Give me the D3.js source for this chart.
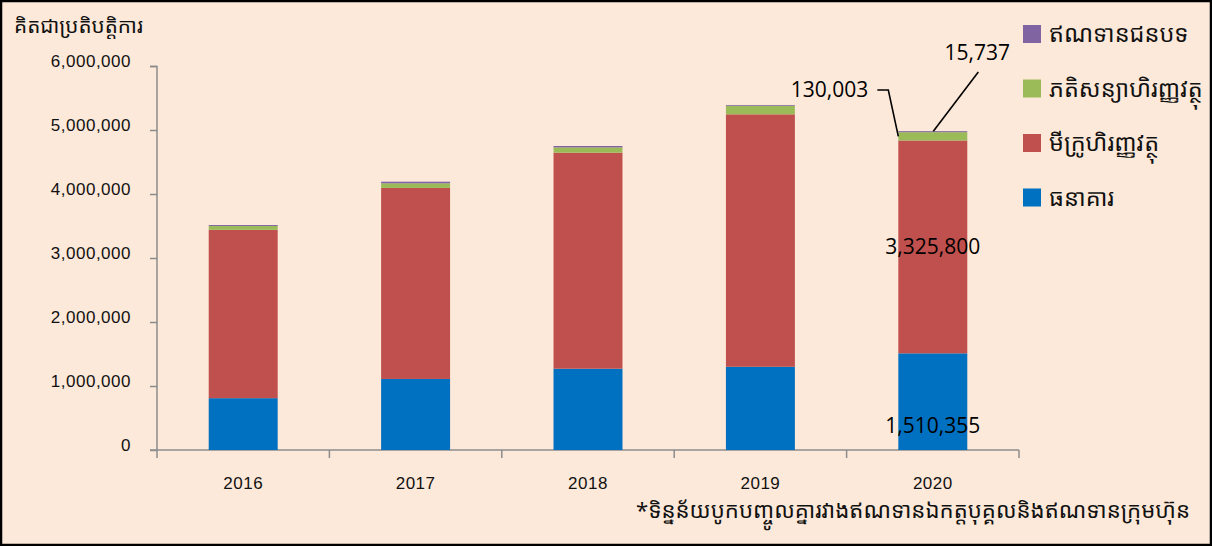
<!DOCTYPE html>
<html>
<head>
<meta charset="utf-8">
<script src="https://cdn.jsdelivr.net/npm/d3@7"></script>
<style>
  body { margin: 0; background: #fde9d9; }
  svg { display: block; }
</style>
</head>
<body>
<div id="chart-area"></div>
<script>
// data
const years = ["2016", "2017", "2018", "2019", "2020"]
const banks = [810000, 1110000, 1270000, 1300000, 1510355]
const microfinance = [2630000, 2985000, 3375000, 3945000, 3325800]
const leasing = [60000, 72000, 83000, 134000, 130003]
const rural = [15000, 25000, 22000, 12000, 15737]
const seriesNames = ["ធនាគារ", "មីក្រូហិរញ្ញវត្ថុ", "ភតិសន្យាហិរញ្ញវត្ថុ", "ឥណទានជនបទ"]
const seriesColors = ["#0070c0", "#c0504d", "#9bbb59", "#8064a2"]
const yTicks = [0, 1000000, 2000000, 3000000, 4000000, 5000000, 6000000]

const W = 1212, H = 546
const MARGIN = { LEFT: 157, RIGHT: 193, TOP: 66, BOTTOM: 96 }
const WIDTH = W - MARGIN.LEFT - MARGIN.RIGHT
const HEIGHT = H - MARGIN.TOP - MARGIN.BOTTOM

const svg = d3.select("#chart-area").append("svg")
  .attr("width", W)
  .attr("height", H)

svg.append("rect")
  .attr("x", 1).attr("y", 1)
  .attr("width", W - 2).attr("height", H - 2)
  .attr("fill", "#fde9d9")
  .attr("stroke", "#000")
  .attr("stroke-width", 2.5)

const g = svg.append("g")
  .attr("transform", `translate(${MARGIN.LEFT}, ${MARGIN.TOP})`)

const rows = years.map((yr, i) => ({
  year: yr, b: banks[i], m: microfinance[i], l: leasing[i], r: rural[i]
}))
const stack = d3.stack().keys(["b", "m", "l", "r"])(rows)

const x = d3.scaleBand()
  .domain(years)
  .range([0, WIDTH])
  .paddingInner(0.6)
  .paddingOuter(0.3)

const y = d3.scaleLinear()
  .domain([0, 6000000])
  .range([HEIGHT, 0])

const axisFont = "'Liberation Sans', Arial, sans-serif"

// Y axis
const yAxis = g.append("g")
  .call(d3.axisLeft(y).tickValues(yTicks).tickSize(7).tickPadding(19)
    .tickFormat(d3.format(",")))
yAxis.selectAll("path, line").attr("stroke", "#8c8c8c").attr("stroke-width", 1.5)
yAxis.select(".domain").attr("d", `M-7,0.5H0V${HEIGHT}`)
yAxis.selectAll("text")
  .attr("font-family", axisFont)
  .attr("font-size", "17px")
  .attr("letter-spacing", "0.5px")
  .attr("fill", "#111")
  .attr("dy", "0.02em")

// X axis
const xAxis = g.append("g")
  .attr("transform", `translate(0, ${HEIGHT})`)
  .call(d3.axisBottom(x).tickSize(0).tickPadding(27))
xAxis.select(".domain").attr("d", `M-7,0H${WIDTH}`)
  .attr("stroke", "#8c8c8c").attr("stroke-width", 1.5)
xAxis.selectAll("text")
  .attr("font-family", axisFont)
  .attr("font-size", "17px")
  .attr("letter-spacing", "0.5px")
  .attr("fill", "#111")
const bounds = years.map(d => x(d) - x.step() * 0.3).concat([WIDTH])
xAxis.selectAll(".bound")
  .data(bounds)
  .enter().append("line")
  .attr("x1", d => d).attr("x2", d => d)
  .attr("y1", 0).attr("y2", 8)
  .attr("stroke", "#8c8c8c").attr("stroke-width", 1.5)

// bars
g.selectAll(".series")
  .data(stack)
  .enter().append("g")
  .attr("fill", (d, i) => seriesColors[i])
  .selectAll("rect")
  .data(d => d)
  .enter().append("rect")
  .attr("x", d => x(d.data.year))
  .attr("y", d => y(d[1]))
  .attr("width", x.bandwidth())
  .attr("height", d => y(d[0]) - y(d[1]))

// labels for 2020
const last = rows[rows.length - 1]
const cx = x("2020") + x.bandwidth() / 2
const lblFont = "'Open Sans', Lato, sans-serif"
g.append("text")
  .attr("x", cx).attr("y", y(last.b + last.m / 2))
  .attr("text-anchor", "middle").attr("dy", "0.35em")
  .attr("font-family", lblFont).attr("font-size", "21px").attr("fill", "#000")
  .text(d3.format(",")(last.m))
g.append("text")
  .attr("x", cx).attr("y", y(last.b / 4))
  .attr("text-anchor", "middle").attr("dy", "0.35em")
  .attr("font-family", lblFont).attr("font-size", "21px").attr("fill", "#000")
  .text(d3.format(",")(last.b))

const topL = y(last.b + last.m + last.l / 2)
const bx = x("2020")
g.append("path")
  .attr("d", `M${bx - 21},${24}H${bx - 10}L${bx},${topL}`)
  .attr("fill", "none").attr("stroke", "#000").attr("stroke-width", 1.6)
g.append("text")
  .attr("x", bx - 30).attr("y", 24)
  .attr("text-anchor", "end").attr("dy", "0.35em")
  .attr("font-family", lblFont).attr("font-size", "21px").attr("fill", "#000")
  .text(d3.format(",")(last.l))

const topR = y(last.b + last.m + last.l + last.r)
g.append("path")
  .attr("d", `M${bx + 80},${6}L${bx + 35},${topR}`)
  .attr("fill", "none").attr("stroke", "#000").attr("stroke-width", 1.6)
g.append("text")
  .attr("x", bx + 79).attr("y", -13)
  .attr("text-anchor", "middle").attr("dy", "0.35em")
  .attr("font-family", lblFont).attr("font-size", "21px").attr("fill", "#000")
  .text(d3.format(",")(last.r))

// title and footnote
const khmer = "'Noto Sans Khmer', 'Khmer OS', 'Noto Serif Khmer', sans-serif"
svg.append("text")
  .attr("x", 14).attr("y", 33)
  .attr("font-family", khmer).attr("font-size", "20.7px").attr("fill", "#111")
  .text("គិតជាប្រតិបត្តិការ")
svg.append("text")
  .attr("x", 1190).attr("y", 518)
  .attr("text-anchor", "end")
  .attr("font-family", khmer).attr("font-size", "22.2px").attr("fill", "#111")
  .text("*ទិន្នន័យបូកបញ្ចូលគ្នារវាងឥណទានឯកត្តបុគ្គលនិងឥណទានក្រុមហ៊ុន")

// legend (top to bottom: rural, leasing, microfinance, banks)
const legendIdx = [3, 2, 1, 0]
const legend = svg.selectAll(".legend")
  .data(legendIdx)
  .enter().append("g")
  .attr("transform", (d, i) => `translate(1023, ${25 + i * 54.5})`)
legend.append("rect")
  .attr("width", 18).attr("height", 18)
  .attr("fill", d => seriesColors[d])
legend.append("text")
  .attr("x", 26).attr("y", 9).attr("dy", "0.35em")
  .attr("font-family", khmer).attr("font-size", "23.5px").attr("fill", "#111")
  .text(d => seriesNames[d])
</script>
</body>
</html>
